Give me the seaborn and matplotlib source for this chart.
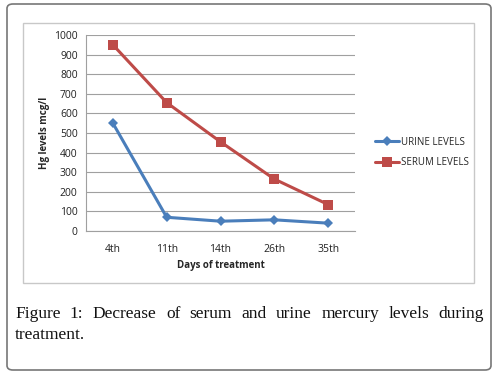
import matplotlib
matplotlib.use("Agg")
import matplotlib.pyplot as plt
import seaborn as sns
import pandas as pd
from matplotlib.patches import FancyBboxPatch, Rectangle

days = ["4th", "11th", "14th", "26th", "35th"]
urine = [550, 70, 50, 57, 40]
serum = [950, 655, 455, 265, 135]
yticks = [0, 100, 200, 300, 400, 500, 600, 700, 800, 900, 1000]
caption = "Figure 1: Decrease of serum and urine mercury levels during treatment."

sns.set_style("white")
plt.rcParams['font.family'] = ['Open Sans', 'DejaVu Sans']

df = pd.DataFrame({
    "day": days * 2,
    "level": urine + serum,
    "series": ["URINE LEVELS"] * len(days) + ["SERUM LEVELS"] * len(days),
})

fig = plt.figure(figsize=(4.95, 3.74), dpi=100)

# outer rounded frame and inner chart box
fig.patches.append(FancyBboxPatch((7/495, 4/374), 484/495, 366/374,
                                  boxstyle="round,pad=0,rounding_size=0.012",
                                  transform=fig.transFigure, fill=False,
                                  edgecolor="#777777", linewidth=1.2))
fig.patches.append(Rectangle((23/495, 1-283/374), 451/495, 260/374,
                             transform=fig.transFigure, fill=False,
                             edgecolor="#c8c8c8", linewidth=1.0))

ax = fig.add_axes([86/495, 1-231/374, 269/495, 196/374])
sns.lineplot(data=df, x="day", y="level", hue="series", style="series",
             markers={"URINE LEVELS": "D", "SERUM LEVELS": "s"}, dashes=False,
             palette={"URINE LEVELS": "#4a7ebb", "SERUM LEVELS": "#be4b48"},
             linewidth=2.2, markersize=6.5, markeredgewidth=0, ax=ax)
for line in ax.lines:
    if line.get_marker() == "D":
        line.set_markersize(5)

ax.set_xlim(-0.5, 4.5)
ax.set_ylim(0, 1000)
ax.set_yticks(yticks)
ax.yaxis.grid(True, color="#a0a0a0", linewidth=0.8)
ax.set_axisbelow(True)
for s in ["top", "right"]:
    ax.spines[s].set_visible(False)
for s in ["left", "bottom"]:
    ax.spines[s].set_color("#a0a0a0")
    ax.spines[s].set_linewidth(0.8)
ax.tick_params(length=0, labelsize=7.5, colors="#222222", pad=6)
ax.tick_params(axis="x", pad=9)
ax.set_xlabel("Days of treatment", fontsize=7, fontweight="bold", labelpad=4)
ax.set_ylabel("Hg levels mcg/l", fontsize=7, fontweight="bold", labelpad=3)

leg = ax.legend(loc="center left", bbox_to_anchor=(1.04, 0.40), frameon=False,
                fontsize=7, handlelength=2.5, handletextpad=0.2, labelspacing=1.0)

# justified caption
fig.canvas.draw()
r = fig.canvas.get_renderer()
left, right = 15/495, 484/495
words = caption.split()
first, second = words[:-1], words[-1:]
cap_font = dict(fontsize=12.5, family="Liberation Serif", color="#111111")
ts = [fig.text(0, 0, w, **cap_font) for w in first]
widths = [t.get_window_extent(r).width / fig.bbox.width for t in ts]
gap = (right - left - sum(widths)) / (len(first) - 1)
x = left
for t, w in zip(ts, widths):
    t.set_position((x, 1-318/374))
    x += w + gap
fig.text(left, 1-339/374, " ".join(second), **cap_font)

fig.savefig("out.png", dpi=100)
